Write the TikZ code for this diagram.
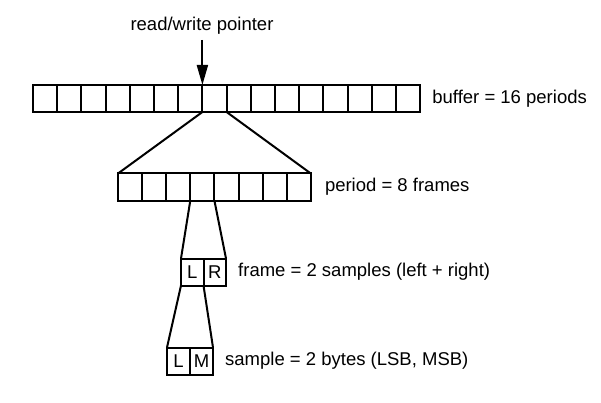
\documentclass[tikz,border=0pt]{standalone}
\usepackage{fontspec}
\setmainfont{Liberation Sans}
\usetikzlibrary{shapes,arrows,positioning}
\usetikzlibrary{arrows.meta}
\tikzstyle{line} = [draw, line width=2pt]
\tikzstyle{ptrline} = [draw, line width=2pt, -{Triangle[width=11pt, length=20pt]}]
\tikzstyle{cell} = [draw, line width=2pt, inner sep=0pt, outer sep=0pt, minimum height=27pt]
\tikzstyle{lbl} = [inner sep=0pt, font=\fontsize{18.5}{22}\selectfont]

\begin{document}
\begin{tikzpicture}[x=1pt, y=-1pt]
    \useasboundingbox (0,0) rectangle (601,403);

    % buffer of 16 periods
    \foreach \i in {1,...,16}
    {
        \node[cell, minimum width=24.2pt] (buf\i) at (33+12.1+\i*24.2-24.2, 98.5) {};
    };
    % one period of 8 frames
    \foreach \i in {1,...,8}
    {
        \node[cell, minimum width=24.1pt] (per\i) at (118+12.05+\i*24.1-24.1, 187) {};
    };
    % one frame
    \node[cell, minimum width=22.5pt, lbl] (frL) at (192.25, 272) {L};
    \node[cell, minimum width=22.5pt, lbl, right=0pt of frL] (frR) {R};
    % one sample
    \node[cell, minimum width=23pt, lbl] (smL) at (178.5, 361) {L};
    \node[cell, minimum width=23pt, lbl, right=0pt of smL] (smM) {M};

    \node[lbl] (ptr) at (202, 26) {read/write pointer};
    \coordinate (ptrtop) at (buf8.north west |- 0,40);
    \path[ptrline] (ptrtop) -- (buf8.north west);

    \node[lbl, anchor=west, right=12pt of buf16] (buflbl) {buffer = 16 periods};
    \node[lbl, anchor=west, right=14pt of per8] (perlbl) {period = 8 frames};
    \node[lbl, anchor=west, right=12pt of frR] (frlbl) {frame = 2 samples (left + right)};
    \node[lbl, anchor=west, right=12pt of smM] (smlbl) {sample = 2 bytes (LSB, MSB)};

    \path[line] (buf8.south west) -- (per1.north west);
    \path[line] (buf8.south east) -- (per8.north east);
    \path[line] (per4.south west) -- (frL.north west);
    \path[line] (per4.south east) -- (frR.north east);
    \path[line] (frL.south west) -- (smL.north west);
    \path[line] (frL.south east) -- (smM.north east);
\end{tikzpicture}
\end{document}
